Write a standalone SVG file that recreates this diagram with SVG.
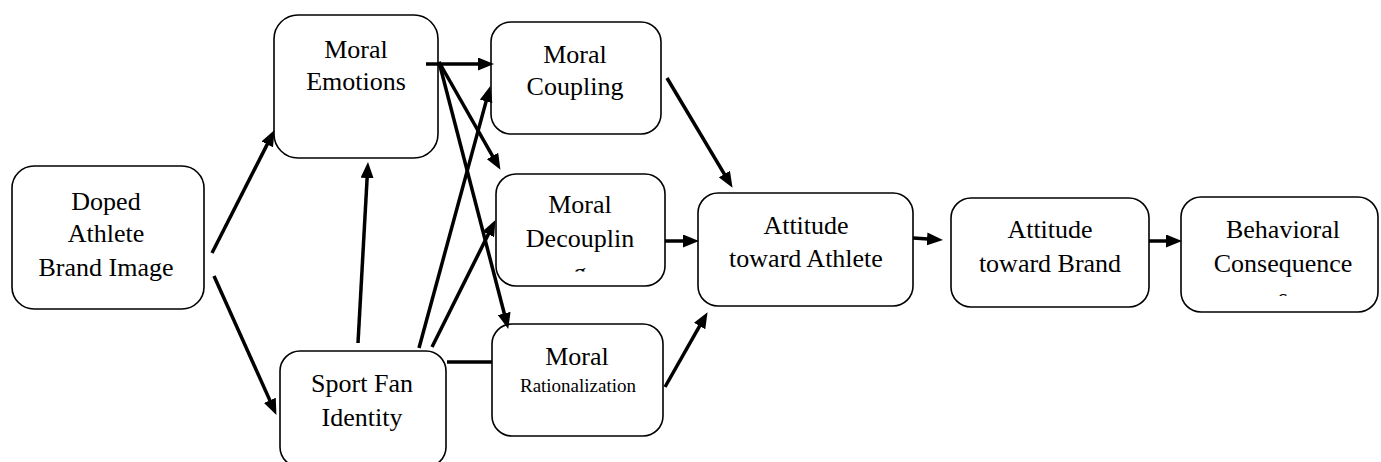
<svg xmlns="http://www.w3.org/2000/svg" width="1381" height="462" viewBox="0 0 1381 462">
<style>
.box{fill:#fff;stroke:#000;stroke-width:1.6}
text{font-family:'Liberation Serif','Times New Roman','DejaVu Serif',serif;font-size:26px;fill:#000;text-anchor:middle}
.s{font-size:19px}
.c{stroke:#000;stroke-width:3.5;fill:none}
.a{marker-end:url(#ah)}
</style>
<defs>
<marker id="ah" viewBox="0 0 16 13" refX="5" refY="6.5" markerWidth="16" markerHeight="13" markerUnits="userSpaceOnUse" orient="auto">
<path d="M0,0 L16,6.5 L0,13 z" fill="#000"/>
</marker>
<clipPath id="clipG"><rect x="560" y="250" width="40" height="21.5"/></clipPath>
<clipPath id="clipS"><rect x="1260" y="275" width="40" height="21"/></clipPath>
</defs>
<rect width="1381" height="462" fill="#fff"/>
<g id="doped">
<rect class="box" x="12" y="166" width="192" height="143" rx="22"/>
<text x="106" y="210">Doped</text>
<text x="106" y="242">Athlete</text>
<text x="106" y="276">Brand Image</text>
</g>
<g id="moralEmotions">
<rect class="box" x="274" y="15" width="164" height="143" rx="24"/>
<text x="356" y="58">Moral</text>
<text x="356" y="90">Emotions</text>
</g>
<g id="sportFan">
<rect class="box" x="280" y="351" width="166" height="116" rx="20"/>
<text x="362" y="392">Sport Fan</text>
<text x="362" y="426">Identity</text>
</g>
<g id="moralCoupling">
<rect class="box" x="491" y="22" width="170" height="112" rx="20"/>
<text x="575" y="63">Moral</text>
<text x="575" y="95">Coupling</text>
</g>
<g id="moralDecoupling">
<rect class="box" x="496" y="174" width="169" height="112" rx="20"/>
<text x="580" y="213">Moral</text>
<text x="580" y="247">Decouplin</text>
<text x="580" y="281" clip-path="url(#clipG)">g</text>
</g>
<g id="moralRationalization">
<rect class="box" x="492" y="324" width="171" height="112" rx="20"/>
<text x="577" y="365">Moral</text>
<text class="s" x="578" y="392">Rationalization</text>
</g>
<g id="attitudeAthlete">
<rect class="box" x="698" y="193" width="215" height="113" rx="20"/>
<text x="806" y="234">Attitude</text>
<text x="806" y="267">toward Athlete</text>
</g>
<g id="attitudeBrand">
<rect class="box" x="951" y="198" width="198" height="109" rx="20"/>
<text x="1050" y="238">Attitude</text>
<text x="1050" y="272">toward Brand</text>
</g>
<g id="behavioral">
<rect class="box" x="1181" y="197" width="197" height="115" rx="20"/>
<text x="1283" y="238">Behavioral</text>
<text x="1283" y="272">Consequence</text>
<text x="1283" y="306" clip-path="url(#clipS)">s</text>
</g>
<g id="connectors">
<line class="c a" x1="212" y1="253" x2="269.5" y2="139.9"/>
<line class="c a" x1="214" y1="276" x2="271.9" y2="404.9"/>
<line class="c a" x1="358" y1="343" x2="367.4" y2="173"/>
<line class="c a" x1="426" y1="64" x2="483" y2="64"/>
<line class="c a" x1="439" y1="62" x2="495" y2="160.3"/>
<line class="c a" x1="439" y1="62" x2="505.5" y2="318.3"/>
<line class="c a" x1="419" y1="348" x2="487.4" y2="96.6"/>
<line class="c a" x1="432" y1="347" x2="490.5" y2="229.9"/>
<line class="c" x1="447" y1="362" x2="492" y2="362"/>
<line class="c a" x1="667" y1="78" x2="726.9" y2="178.4"/>
<line class="c a" x1="665" y1="241" x2="688" y2="241"/>
<line class="c a" x1="665" y1="387" x2="702.1" y2="321.7"/>
<line class="c a" x1="913" y1="238" x2="932" y2="239.3"/>
<line class="c a" x1="1149" y1="241" x2="1171" y2="241"/>
</g>
</svg>
